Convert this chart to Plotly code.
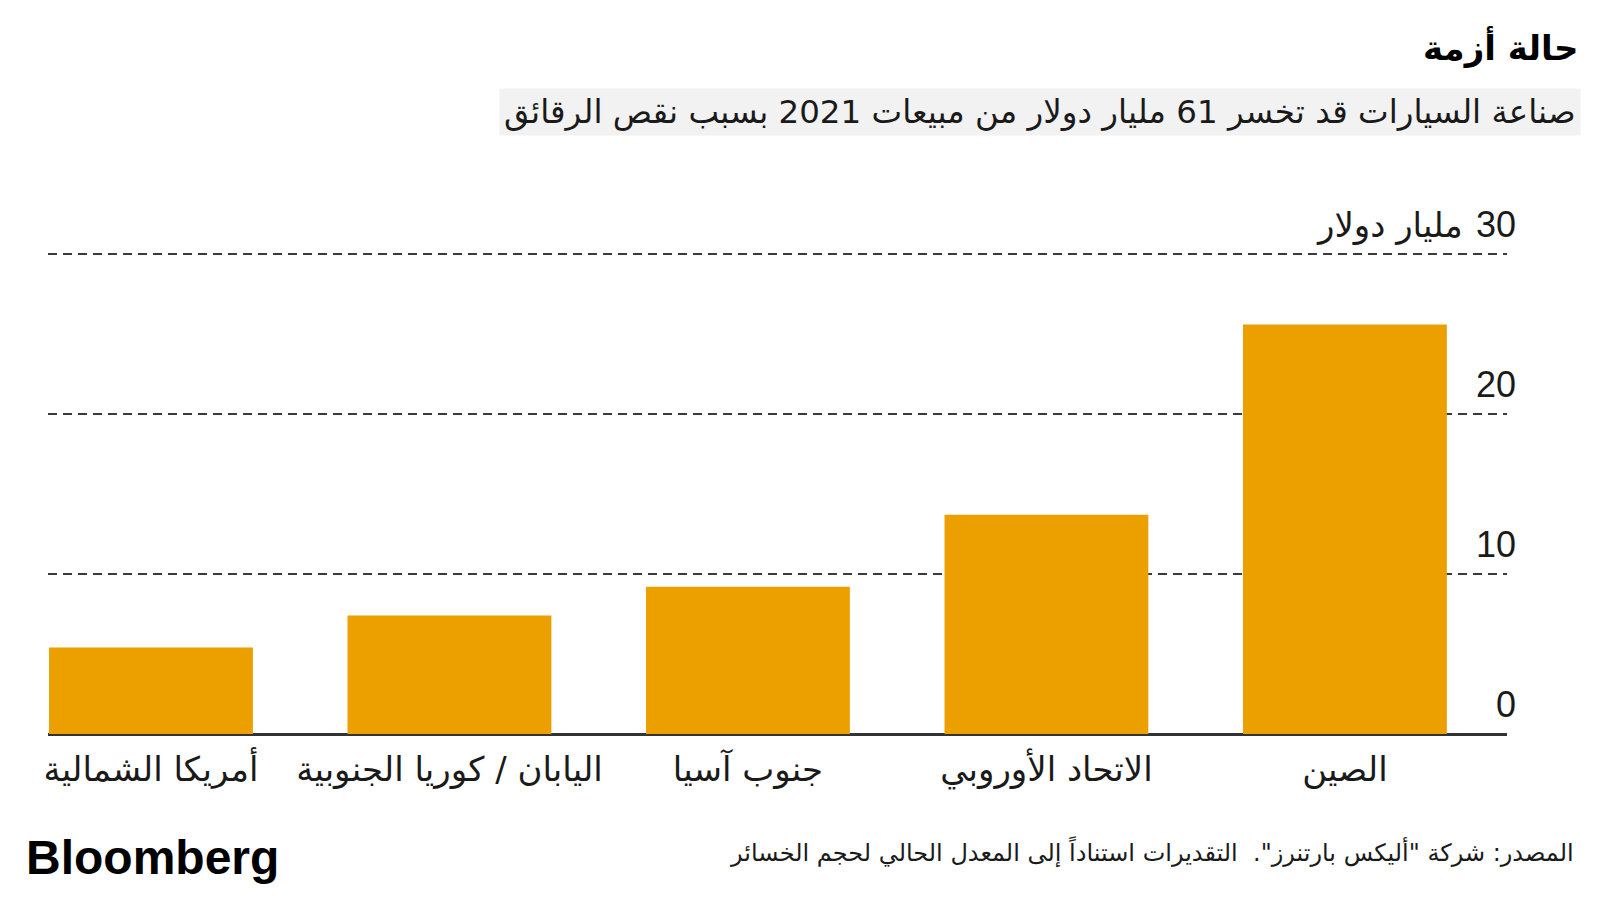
import plotly.graph_objects as go

# Data (order: right to left as shown in the Arabic chart)
regions = ["الصين", "الاتحاد الأوروبي", "جنوب آسيا", "اليابان / كوريا الجنوبية", "أمريكا الشمالية"]
losses_bn = [25.6, 13.7, 9.2, 7.4, 5.4]
y_tickvals = [0, 10, 20, 30]
y_ticktext = ["0", "10", "20", "30"]
y_unit_text = "مليار دولار"

title_text = "حالة أزمة"
subtitle_text = "صناعة السيارات قد تخسر 61 مليار دولار من مبيعات 2021 بسبب نقص الرقائق"
source_text = "المصدر: شركة \"أليكس بارتنرز\".  التقديرات استناداً إلى المعدل الحالي لحجم الخسائر"
brand_text = "Bloomberg"

BAR = "#EBA000"
INK = "#1a1a1a"
AR_FONT = "DejaVu Sans, Noto Sans, sans-serif"
NUM_FONT = "Liberation Sans, Arial, DejaVu Sans, sans-serif"

OFF = 8  # default page body margin
W, H = 1600, 900
L, R, T, B = 40, 101, 190, 174
PW, PH = W - L - R, H - T - B


def px(page_x):
    return (page_x - OFF - L) / PW


def py(page_y):
    return (H - B - (page_y - OFF)) / PH


fig = go.Figure(
    go.Bar(
        x=regions,
        y=losses_bn,
        marker=dict(color=BAR, line=dict(width=0)),
        width=0.683,
        hoverinfo="skip",
    )
)

fig.update_layout(
    width=W,
    height=H,
    margin=dict(l=L, r=R, t=T, b=B, pad=0),
    paper_bgcolor="white",
    plot_bgcolor="white",
    showlegend=False,
)

fig.update_xaxes(
    type="category",
    categoryorder="array",
    categoryarray=regions,
    range=[4.345, -0.543],
    showgrid=False,
    showline=False,
    zeroline=False,
    ticks="",
    ticklabelstandoff=12,
    tickfont=dict(family=AR_FONT, size=34, color=INK),
    fixedrange=True,
)

fig.update_yaxes(
    range=[0, 33.5],
    side="right",
    tickvals=y_tickvals,
    ticktext=y_ticktext,
    ticklabelposition="inside top",
    ticklabelstandoff=-12,
    ticklabelshift=-4,
    tickfont=dict(family=NUM_FONT, size=36, color=INK),
    showgrid=True,
    gridcolor="#3a3a3a",
    gridwidth=1.5,
    griddash="9px,6px",
    zeroline=True,
    zerolinecolor="#333333",
    zerolinewidth=3,
    showline=False,
    ticks="",
    fixedrange=True,
)

annotations = [
    dict(text="<b>" + title_text + "</b>", x=px(1580), y=py(47), xref="paper", yref="paper",
         xanchor="right", yanchor="middle", showarrow=False,
         font=dict(family=AR_FONT, size=34, color="#000")),
    dict(text=subtitle_text, x=px(1581), y=py(112), xref="paper", yref="paper",
         xanchor="right", yanchor="middle", showarrow=False, bgcolor="#f2f2f2",
         borderpad=4,
         font=dict(family=AR_FONT, size=32.5, color=INK)),
    dict(text=y_unit_text, x=px(1465), y=y_tickvals[-1], xref="paper", yref="y",
         xanchor="right", yanchor="bottom", yshift=6, showarrow=False,
         font=dict(family=AR_FONT, size=34, color=INK)),
    dict(text=source_text, x=px(1576), y=py(852), xref="paper", yref="paper",
         xanchor="right", yanchor="middle", showarrow=False,
         font=dict(family=AR_FONT, size=24, color=INK)),
    dict(text="<b>" + brand_text + "</b>", x=px(24), y=py(857), xref="paper", yref="paper",
         xanchor="left", yanchor="middle", showarrow=False,
         font=dict(family=NUM_FONT, size=48, color="#000")),
]
fig.update_layout(annotations=annotations)

fig.write_html("out.html")
